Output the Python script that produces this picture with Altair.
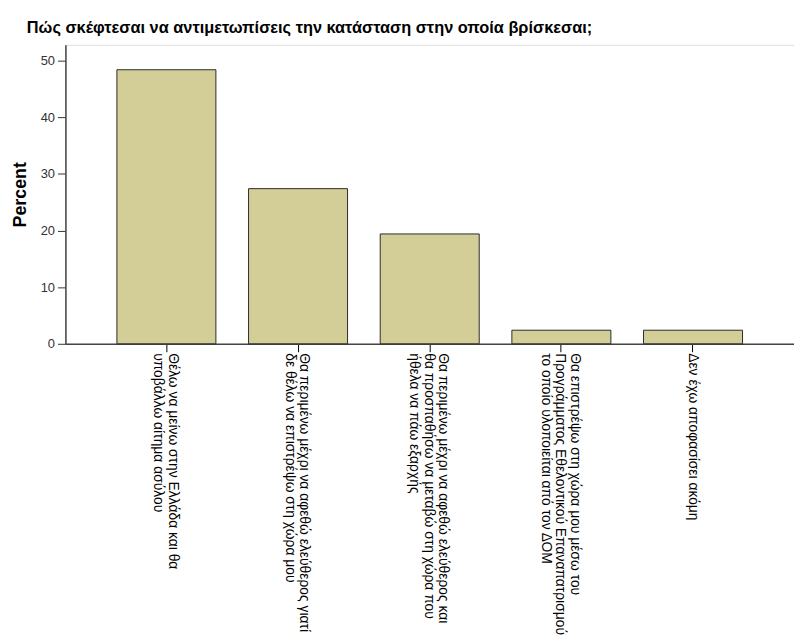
import altair as alt
import pandas as pd

categories = [
    "Θέλω να μείνω στην Ελλάδα και θα|υποβάλλω αίτημα ασύλου",
    "Θα περιμένω μέχρι να αφεθώ ελεύθερος γιατί|δε θέλω να επιστρέψω στη χώρα μου",
    "Θα περιμένω μέχρι να αφεθώ ελεύθερος και|θα προσπαθήσω να μεταβώ στη χώρα που|ήθελα να πάω εξαρχής",
    "Θα επιστρέψω στη χώρα μου μέσω του|Προγράμματος Εθελοντικού Επαναπατρισμού|το οποίο υλοποιείται από τον ΔΟΜ",
    "Δεν έχω αποφασίσει ακόμη",
]
percents = [48.4, 27.4, 19.4, 2.4, 2.4]
y_ticks = [0, 10, 20, 30, 40, 50]
title_text = "Πώς σκέφτεσαι να αντιμετωπίσεις την κατάσταση στην οποία βρίσκεσαι;"

df = pd.DataFrame({"cat": categories, "pct": percents})

FONT = "Liberation Sans"
LH = 14.5

label_offset = {
    "condition": [
        {"test": "length(split(datum.label, '|')) == 3", "value": LH - 1},
        {"test": "length(split(datum.label, '|')) == 2", "value": LH / 2 - 1},
    ],
    "value": 0,
}

chart = alt.Chart(df).mark_bar(
    color="#d3ce97", stroke="#2b2b2b", strokeWidth=1
).encode(
    x=alt.X(
        "cat:N",
        sort=None,
        scale=alt.Scale(paddingInner=0.248, paddingOuter=0.391),
        axis=alt.Axis(
            title=None,
            labelAngle=90,
            labelAlign="left",
            labelBaseline="middle",
            labelExpr="split(datum.label, '|')",
            labelFont=FONT,
            labelFontSize=14,
            labelColor="#000000",
            labelLineHeight=LH,
            labelPadding=1,
            labelLimit=1000,
            labelOverlap=False,
            labelOffset=label_offset,
            tickSize=8,
            tickColor="#000000",
            domainColor="#444444",
            domainWidth=1.5,
        ),
    ),
    y=alt.Y(
        "pct:Q",
        scale=alt.Scale(domain=[0, 52.8], nice=False),
        axis=alt.Axis(
            title="Percent",
            values=y_ticks,
            grid=False,
            labelFont=FONT,
            labelFontSize=13,
            labelColor="#333333",
            labelPadding=3,
            tickSize=8,
            tickColor="#333333",
            domainColor="#444444",
            domainWidth=1.5,
            titleFont=FONT,
            titleFontSize=18,
            titleFontWeight="bold",
            titleColor="#000000",
            titlePadding=11,
        ),
    ),
).properties(
    width=736,
    height=302,
    autosize="none",
    padding={"left": 58, "top": 34, "right": 0, "bottom": 295},
    title=alt.TitleParams(
        text=title_text,
        anchor="start",
        frame="group",
        font=FONT,
        fontSize=16.5,
        fontWeight="bold",
        color="#000000",
        dx=-39,
        offset=8,
    ),
).configure_view(
    fill="#f0f0f0", stroke="#4a4a4a", strokeWidth=1.5
).configure(background="white")

chart.save("out.html", embed_options={"renderer": "svg", "actions": False})
